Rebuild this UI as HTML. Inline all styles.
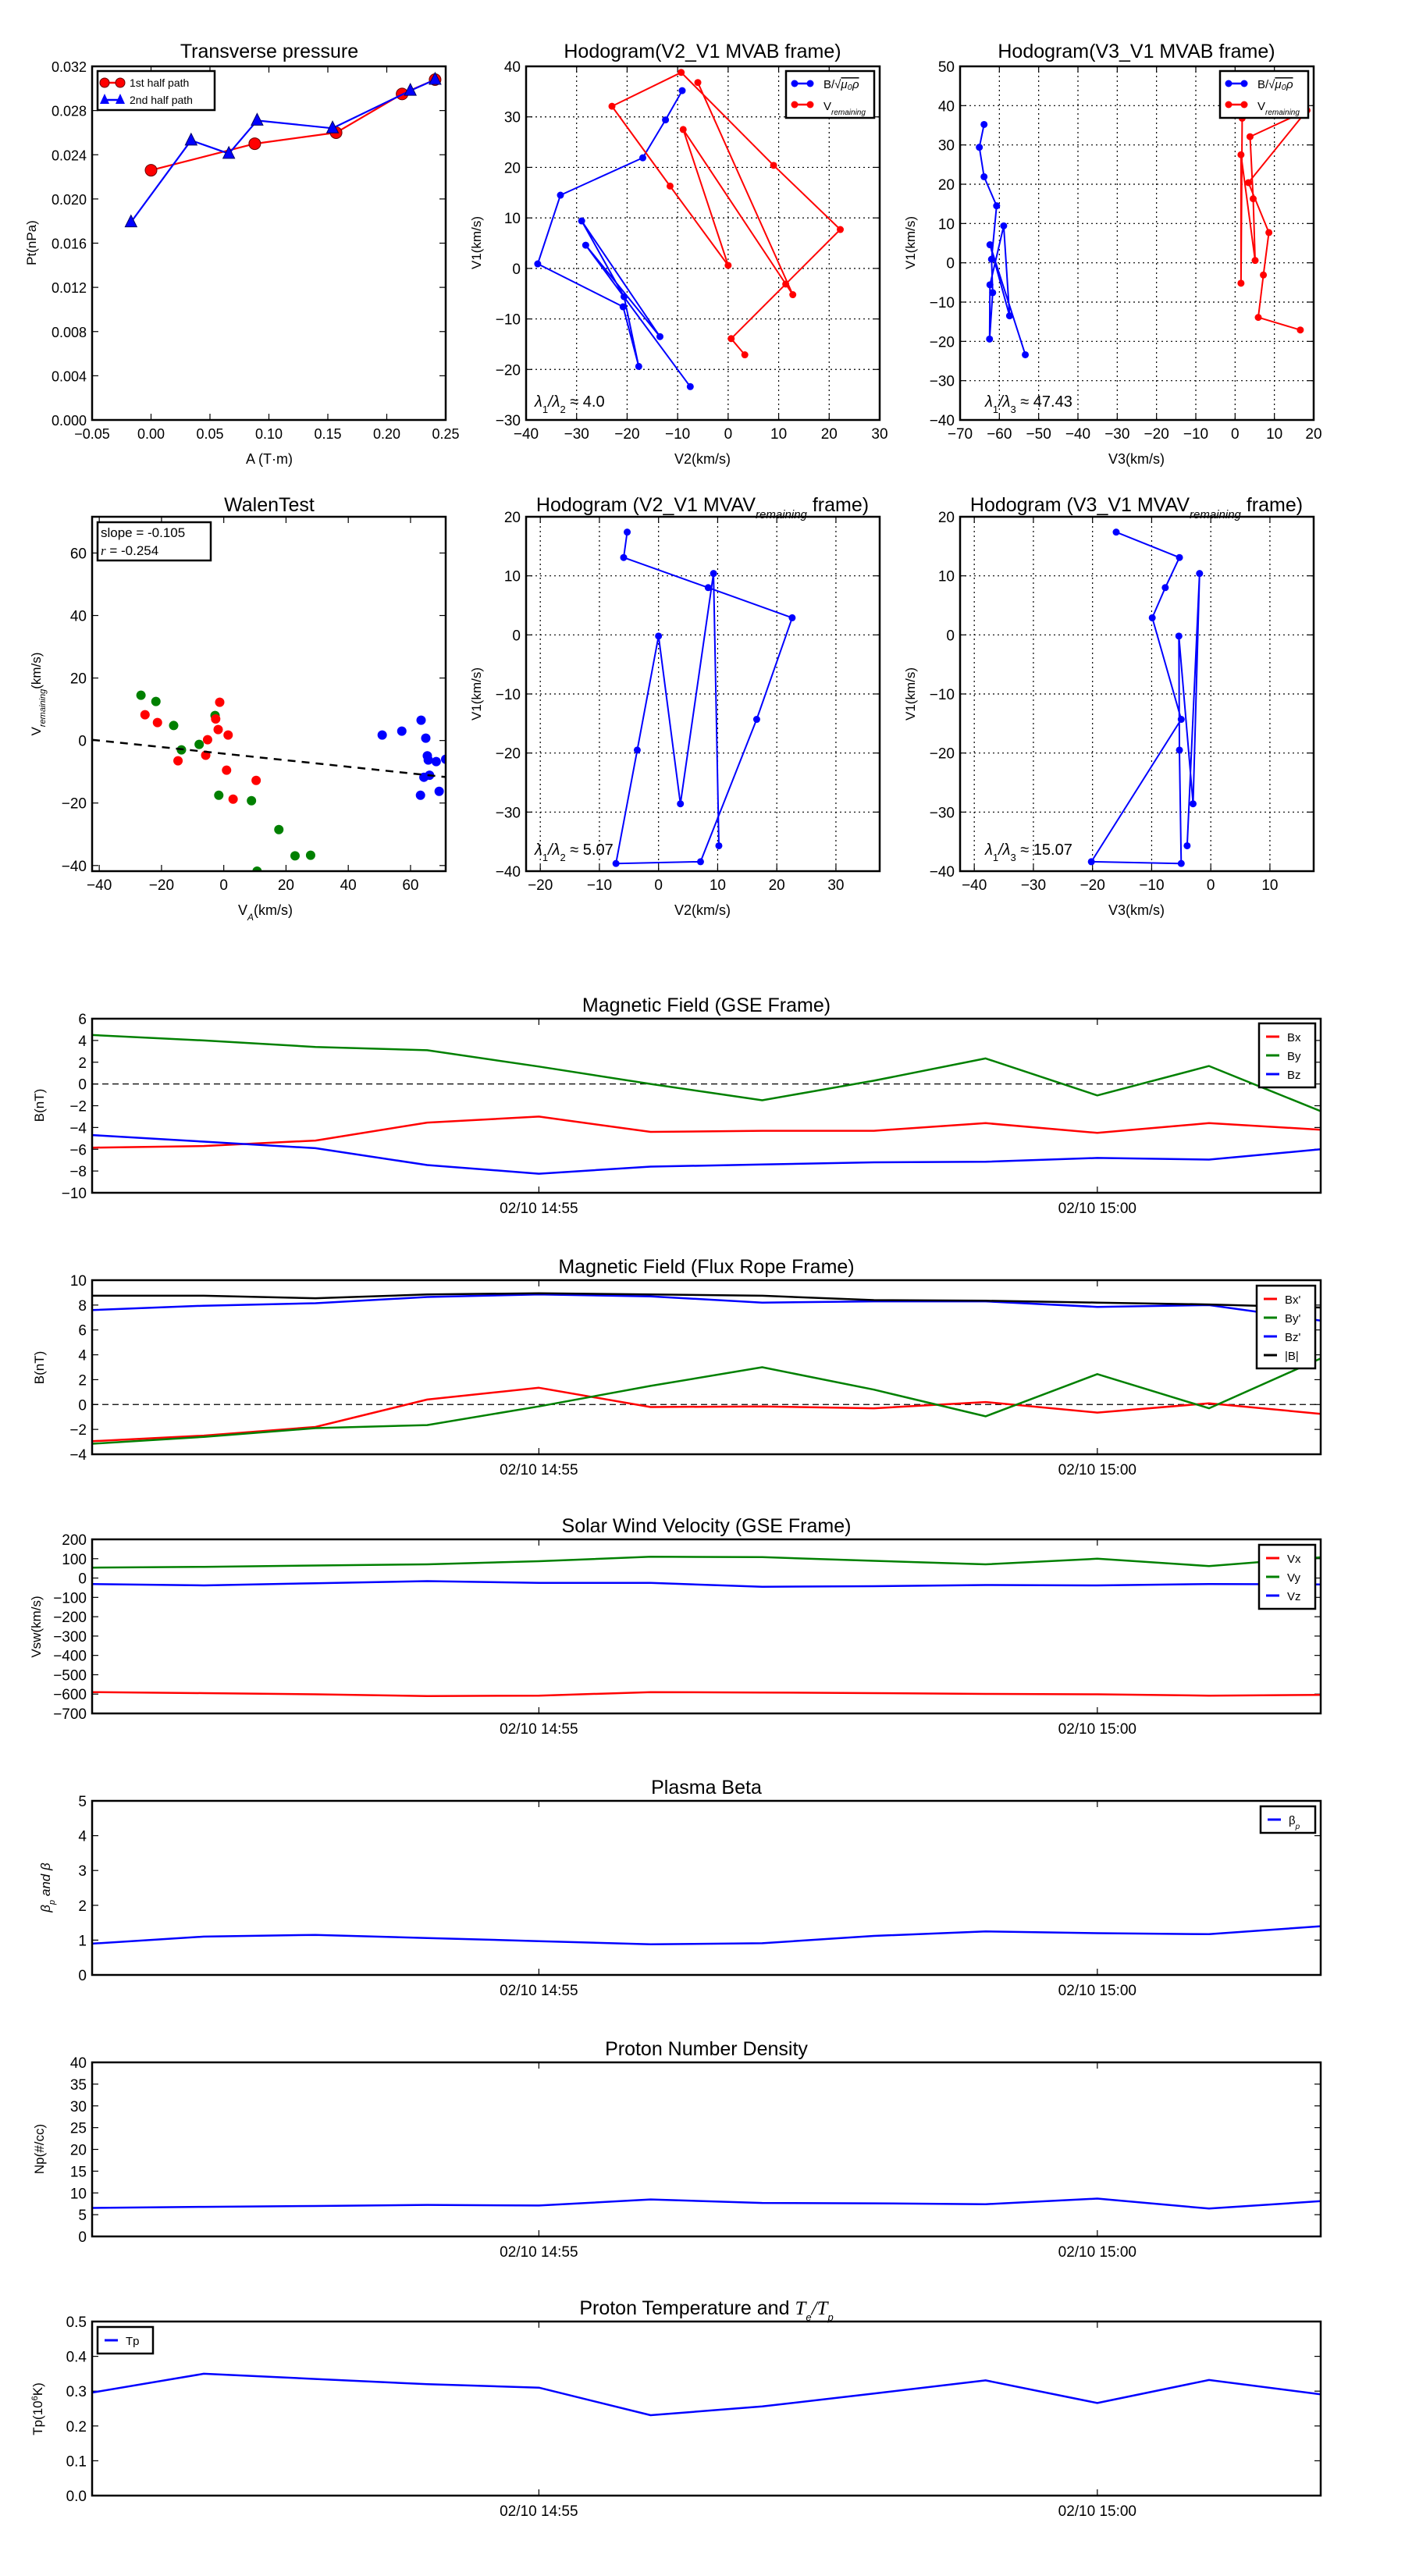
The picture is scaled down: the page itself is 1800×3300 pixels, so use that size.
<!DOCTYPE html>
<html><head><meta charset="utf-8"><title>Flux rope analysis</title>
<style>
html,body{margin:0;padding:0;background:#fff;}
svg{display:block;font-family:"Liberation Sans Narrow","Liberation Sans",sans-serif;}
</style></head>
<body>
<svg id="chart" xmlns="http://www.w3.org/2000/svg" width="1800" height="3300" viewBox="0 0 1800 3300">
<rect x="0" y="0" width="1800" height="3300" fill="#fff"/>
</svg>
<script>
// ---------- data ----------
const ptA1 = [0.0, 0.088, 0.157, 0.213, 0.241];
const ptP1 = [0.0226, 0.0250, 0.0260, 0.0295, 0.0308];
const ptA2 = [-0.017, 0.034, 0.066, 0.090, 0.154, 0.220, 0.241];
const ptP2 = [0.0179, 0.0253, 0.0241, 0.0271, 0.0264, 0.0298, 0.0308];

const mvabB1 = [35.2, 29.4, 21.9, 14.5, 0.9, -7.6, -19.4, -5.6, 9.4, -13.5, 4.6, -23.4];
const mvabB2 = [-9.1, -12.4, -16.9, -33.2, -37.7, -20.8, -17.7, -20.6, -29.0, -13.5, -28.2, -7.5];
const mvabB3 = [-63.9, -65.1, -63.9, -60.7, -62.0, -61.7, -62.5, -62.4, -58.9, -57.4, -62.4, -53.4];
const mvabV1 = [36.8, -5.2, 27.5, 0.6, 16.3, 32.1, 38.8, 20.4, 7.7, -3.1, -13.9, -17.1];
const mvabV2 = [-6.0, 12.8, -8.9, 0.0, -11.5, -23.0, -9.3, 9.0, 22.2, 11.4, 0.6, 3.3];
const mvabV3 = [1.8, 1.5, 1.5, 5.1, 4.6, 3.8, 18.3, 3.4, 8.6, 7.2, 5.9, 16.6];

const mvavV1 = [17.4, 13.1, 8.0, 2.9, -14.3, -38.4, -38.7, -19.5, -0.2, -28.6, 10.4, -35.7];
const mvavV2 = [-5.3, -5.9, 8.4, 22.6, 16.6, 7.1, -7.2, -3.6, 0.0, 3.7, 9.3, 10.2];
const mvavV3 = [-16.0, -5.3, -7.7, -9.9, -5.0, -20.2, -5.0, -5.3, -5.4, -3.0, -1.9, -4.0];

const walenGX = [-26.6, -21.8, -16.1, -13.6, -7.9, -2.8, -1.6, 8.9, 17.7, 22.9, 27.9, 10.7];
const walenGY = [14.5, 12.5, 4.8, -3.0, -1.25, 8.0, -17.5, -19.25, -28.5, -36.9, -36.7, -41.8];
const walenRX = [-25.3, -21.3, -14.7, -5.8, -5.2, -2.6, -1.8, -1.3, 1.4, 0.9, 3.0, 10.4];
const walenRY = [8.25, 5.75, -6.5, -4.7, 0.25, 6.9, 3.5, 12.25, 1.75, -9.5, -18.75, -12.75];
const walenBX = [50.9, 57.2, 63.4, 64.9, 65.4, 65.7, 68.25, 71.3, 64.3, 66.1, 63.2, 69.2];
const walenBY = [1.75, 3.0, 6.5, 0.75, -4.9, -6.25, -6.75, -6.0, -11.75, -11.1, -17.5, -16.25];
const walenSlope = -0.105;
const walenIntercept = -4.2;

const timeIdx = [0,1,2,3,4,5,6,7,8,9,10,11];
const timeTickIdx = [4, 9];
const timeTickLabels = ['02/10 14:55', '02/10 15:00'];

const gseBx = [-5.85, -5.7, -5.2, -3.55, -3.0, -4.4, -4.3, -4.3, -3.6, -4.5, -3.6, -4.2];
const gseBy = [4.5, 4.0, 3.4, 3.1, 1.6, 0.0, -1.5, 0.3, 2.35, -1.05, 1.65, -2.5];
const gseBz = [-4.7, -5.3, -5.9, -7.45, -8.25, -7.6, -7.4, -7.2, -7.15, -6.8, -6.95, -6.0];

const frBx = [-2.95, -2.5, -1.8, 0.4, 1.35, -0.2, -0.15, -0.3, 0.2, -0.65, 0.1, -0.75];
const frBy = [-3.15, -2.6, -1.9, -1.65, -0.15, 1.5, 3.0, 1.2, -0.95, 2.45, -0.3, 3.7];
const frBz = [7.6, 7.95, 8.15, 8.65, 8.85, 8.7, 8.2, 8.3, 8.3, 7.85, 8.0, 6.75];
const frBt = [8.75, 8.75, 8.55, 8.85, 8.95, 8.85, 8.75, 8.4, 8.35, 8.2, 8.05, 7.8];

const velVx = [-590, -595, -601, -610, -608, -590, -592, -595, -599, -601, -608, -604];
const velVy = [54, 58, 65, 71, 87, 110, 108, 89, 71, 100, 62, 107];
const velVz = [-31, -38, -27, -16, -25, -25, -45, -42, -36, -38, -31, -33];

const betaP = [0.9, 1.1, 1.15, 1.06, 0.97, 0.88, 0.91, 1.12, 1.25, 1.2, 1.17, 1.4];
const densNp = [6.55, 6.8, 7.0, 7.25, 7.1, 8.5, 7.7, 7.6, 7.4, 8.7, 6.4, 8.1];
const tempTp = [0.296, 0.35, 0.335, 0.32, 0.31, 0.231, 0.256, 0.293, 0.331, 0.266, 0.332, 0.291];

// ---------- helpers ----------
const NS = 'http://www.w3.org/2000/svg';
const svg = document.getElementById('chart');
let clipN = 0;
function mk(tag, attrs, parent) {
  const e = document.createElementNS(NS, tag);
  for (const k in attrs) e.setAttribute(k, attrs[k]);
  (parent || svg).appendChild(e);
  return e;
}
function fmt(v, d) { const s = Math.abs(v).toFixed(d); return (v < -1e-9 ? '\u2212' : '') + s; }
function label(str, x, y, size, anchor, name, parent, rot) {
  const e = mk('text', {x: x, y: y, 'font-size': size, 'text-anchor': anchor || 'middle', fill: '#000'}, parent);
  if (rot) e.setAttribute('transform', 'rotate(-90 ' + x + ' ' + y + ')');
  e.textContent = str;
  
  
  return e;
}
function range(a, b, s) { const r = []; for (let v = a; v <= b + 1e-9; v += s) r.push(+v.toFixed(6)); return r; }

function axes(name, bx, xlim, ylim, opt) {
  const g = mk('g', {});
  
  
  const sx = v => bx.x0 + (v - xlim[0]) / (xlim[1] - xlim[0]) * (bx.x1 - bx.x0);
  const sy = v => bx.y1 - (v - ylim[0]) / (ylim[1] - ylim[0]) * (bx.y1 - bx.y0);
  const id = 'clip' + (clipN++);
  const cp = mk('clipPath', {id: id}, g);
  mk('rect', {x: bx.x0, y: bx.y0, width: bx.x1 - bx.x0, height: bx.y1 - bx.y0}, cp);
  const xt = opt.xticks, yt = opt.yticks;
  if (opt.grid) {
    xt.forEach(v => { const x = sx(v); if (x > bx.x0 + 1 && x < bx.x1 - 1) { const l = mk('line', {x1: x, x2: x, y1: bx.y0, y2: bx.y1, stroke: '#000', 'stroke-width': 1.2, 'stroke-dasharray': '2,4'}, g);   } });
    yt.forEach(v => { const y = sy(v); if (y > bx.y0 + 1 && y < bx.y1 - 1) { const l = mk('line', {x1: bx.x0, x2: bx.x1, y1: y, y2: y, stroke: '#000', 'stroke-width': 1.2, 'stroke-dasharray': '2,4'}, g);   } });
  }
  const tl = 8;
  xt.forEach((v, i) => {
    const x = sx(v);
    mk('line', {x1: x, x2: x, y1: bx.y1, y2: bx.y1 - tl, stroke: '#000', 'stroke-width': 1.2}, g);
    mk('line', {x1: x, x2: x, y1: bx.y0, y2: bx.y0 + tl, stroke: '#000', 'stroke-width': 1.2}, g);
    const s = opt.xlabels ? opt.xlabels[i] : fmt(v, opt.xdec || 0);
    label(s, x, bx.y1 + (opt.xlabOff || 24), opt.tickSize || 19, 'middle', 'x-tick-label', g);
  });
  yt.forEach(v => {
    const y = sy(v);
    mk('line', {x1: bx.x0, x2: bx.x0 + tl, y1: y, y2: y, stroke: '#000', 'stroke-width': 1.2}, g);
    mk('line', {x1: bx.x1, x2: bx.x1 - tl, y1: y, y2: y, stroke: '#000', 'stroke-width': 1.2}, g);
    label(fmt(v, opt.ydec || 0), bx.x0 - 7, y + 7, opt.tickSize || 19, 'end', 'y-tick-label', g);
  });
  const data = mk('g', {'clip-path': 'url(#' + id + ')'}, g);
  
  
  const frame = () => {
    const f = mk('rect', {x: bx.x0, y: bx.y0, width: bx.x1 - bx.x0, height: bx.y1 - bx.y0, fill: 'none', stroke: '#000', 'stroke-width': 2.5}, g);
    
    
  };
  return {sx, sy, g, data, frame, bx};
}
function polyline(ax, xs, ys, color, w, name) {
  const pts = xs.map((x, i) => ax.sx(x).toFixed(1) + ',' + ax.sy(ys[i]).toFixed(1)).join(' ');
  const p = mk('polyline', {points: pts, fill: 'none', stroke: color, 'stroke-width': w || 2, 'stroke-linejoin': 'round'}, ax.data);
  
  
  return p;
}
function dots(ax, xs, ys, color, r, name) {
  xs.forEach((x, i) => {
    const c = mk('circle', {cx: ax.sx(x), cy: ax.sy(ys[i]), r: r, fill: color}, ax.data);
    
    
  });
}
function title(str, cx, y, name, subs) {
  const t = mk('text', {x: cx, y: y, 'font-size': 25, 'text-anchor': 'middle'});
  
  
  t.textContent = str;
  return t;
}
function sub(parentText, str, italic, shift, size) {
  const s = mk('tspan', {'font-size': size || 15, 'baseline-shift': shift || 'sub'}, parentText);
  if (italic) s.setAttribute('font-style', 'italic');
  s.textContent = str;
  return s;
}
function plain(parentText, str) { const s = mk('tspan', {'baseline-shift': '0'}, parentText); s.textContent = str; return s; }

// ---------- layout ----------
const colX = [[118, 571], [674, 1127], [1230, 1683]];
const row1 = [85, 538], row2 = [662, 1116];

// ===== Transverse pressure =====
(function () {
  const ax = axes('transverse-pressure-chart', {x0: colX[0][0], x1: colX[0][1], y0: row1[0], y1: row1[1]}, [-0.05, 0.25], [0, 0.032],
    {xticks: range(-0.05, 0.25, 0.05), yticks: range(0, 0.032, 0.004), xdec: 2, ydec: 3, tickSize: 18});
  polyline(ax, ptA1, ptP1, '#f00', 2.2, 'first-half-path-line');
  ptA1.forEach((a, i) => { const c = mk('circle', {cx: ax.sx(a), cy: ax.sy(ptP1[i]), r: 7.5, fill: '#f00', stroke: '#600', 'stroke-width': 1}, ax.data);   });
  polyline(ax, ptA2, ptP2, '#00f', 2.2, 'second-half-path-line');
  ptA2.forEach((a, i) => { const x = ax.sx(a), y = ax.sy(ptP2[i]); const t = mk('polygon', {points: `${x},${y - 9} ${x - 7.5},${y + 6} ${x + 7.5},${y + 6}`, fill: '#00f', stroke: '#006', 'stroke-width': 1}, ax.data);   });
  ax.frame();
  const lg = mk('g', {});
  
  
  mk('rect', {x: 125, y: 91, width: 150, height: 50, fill: '#fff', stroke: '#000', 'stroke-width': 2.5}, lg);
  mk('line', {x1: 134, x2: 154, y1: 106, y2: 106, stroke: '#f00', 'stroke-width': 2.5}, lg);
  mk('circle', {cx: 134, cy: 106, r: 6, fill: '#f00', stroke: '#600'}, lg);
  mk('circle', {cx: 154, cy: 106, r: 6, fill: '#f00', stroke: '#600'}, lg);
  label('1st half path', 166, 111, 14, 'start', 'legend-entry-first-half', lg);
  mk('line', {x1: 134, x2: 154, y1: 128, y2: 128, stroke: '#00f', 'stroke-width': 2.5}, lg);
  mk('polygon', {points: '134,120 128,133 140,133', fill: '#00f'}, lg);
  mk('polygon', {points: '154,120 148,133 160,133', fill: '#00f'}, lg);
  label('2nd half path', 166, 133, 14, 'start', 'legend-entry-second-half', lg);
  title('Transverse pressure', 345, 74, 'transverse-pressure-title');
  label('A (T\u00b7m)', 345, 594, 18, 'middle', 'x-axis-title');
  label('Pt(nPa)', 46, 311, 17, 'middle', 'y-axis-title', null, true);
})();

function hodoLegend(x, y, name) {
  const lg = mk('g', {});
  
  
  mk('rect', {x: x, y: y, width: 113, height: 60, fill: '#fff', stroke: '#000', 'stroke-width': 2.5}, lg);
  mk('line', {x1: x + 11, x2: x + 31, y1: y + 16, y2: y + 16, stroke: '#00f', 'stroke-width': 2.5}, lg);
  mk('circle', {cx: x + 11, cy: y + 16, r: 4.5, fill: '#00f'}, lg);
  mk('circle', {cx: x + 31, cy: y + 16, r: 4.5, fill: '#00f'}, lg);
  const t1 = label('B/\u221a', x + 48, y + 22, 15, 'start', 'legend-entry-b', lg);
  const s1 = mk('tspan', {'font-style': 'italic', 'text-decoration': 'overline'}, t1); s1.textContent = '\u03bc\u2080\u03c1';
  mk('line', {x1: x + 11, x2: x + 31, y1: y + 43, y2: y + 43, stroke: '#f00', 'stroke-width': 2.5}, lg);
  mk('circle', {cx: x + 11, cy: y + 43, r: 4.5, fill: '#f00'}, lg);
  mk('circle', {cx: x + 31, cy: y + 43, r: 4.5, fill: '#f00'}, lg);
  const t2 = label('V', x + 48, y + 50, 15, 'start', 'legend-entry-v-remaining', lg);
  sub(t2, 'remaining', true, 'sub', 10);
}
function lambdaText(x, y, a, b, val, name) {
  const t = mk('text', {x: x, y: y, 'font-size': 20, 'text-anchor': 'start'});
  
  
  const s0 = mk('tspan', {'font-style': 'italic'}, t); s0.textContent = '\u03bb';
  sub(t, a, false, 'sub', 13);
  const s2 = mk('tspan', {'font-style': 'italic', 'baseline-shift': '0'}, t); s2.textContent = '/\u03bb';
  sub(t, b, false, 'sub', 13);
  plain(t, ' \u2248 ' + val);
}

// ===== Hodogram V2_V1 MVAB =====
(function () {
  const ax = axes('hodogram-v2-v1-mvab', {x0: colX[1][0], x1: colX[1][1], y0: row1[0], y1: row1[1]}, [-40, 30], [-30, 40],
    {xticks: range(-40, 30, 10), yticks: range(-30, 40, 10), grid: true});
  polyline(ax, mvabB2, mvabB1, '#00f', 2, 'b-hodogram-line');
  dots(ax, mvabB2, mvabB1, '#00f', 4.5, 'b-hodogram-point');
  polyline(ax, mvabV2, mvabV1, '#f00', 2, 'v-hodogram-line');
  dots(ax, mvabV2, mvabV1, '#f00', 4.5, 'v-hodogram-point');
  ax.frame();
  hodoLegend(1007, 91, 'mvab-v2-legend');
  lambdaText(685, 521, '1', '2', '4.0', 'eigenvalue-ratio-text');
  title('Hodogram(V2_V1 MVAB frame)', 900, 74, 'hodogram-v2-mvab-title');
  label('V2(km/s)', 900, 594, 18, 'middle', 'x-axis-title');
  label('V1(km/s)', 616, 311, 17, 'middle', 'y-axis-title', null, true);
})();

// ===== Hodogram V3_V1 MVAB =====
(function () {
  const ax = axes('hodogram-v3-v1-mvab', {x0: colX[2][0], x1: colX[2][1], y0: row1[0], y1: row1[1]}, [-70, 20], [-40, 50],
    {xticks: range(-70, 20, 10), yticks: range(-40, 50, 10), grid: true});
  polyline(ax, mvabB3, mvabB1, '#00f', 2, 'b-hodogram-line');
  dots(ax, mvabB3, mvabB1, '#00f', 4.5, 'b-hodogram-point');
  polyline(ax, mvabV3, mvabV1, '#f00', 2, 'v-hodogram-line');
  dots(ax, mvabV3, mvabV1, '#f00', 4.5, 'v-hodogram-point');
  ax.frame();
  hodoLegend(1563, 91, 'mvab-v3-legend');
  lambdaText(1262, 521, '1', '3', '47.43', 'eigenvalue-ratio-text');
  title('Hodogram(V3_V1 MVAB frame)', 1456, 74, 'hodogram-v3-mvab-title');
  label('V3(km/s)', 1456, 594, 18, 'middle', 'x-axis-title');
  label('V1(km/s)', 1172, 311, 17, 'middle', 'y-axis-title', null, true);
})();

// ===== Walen test =====
(function () {
  const ax = axes('walen-test-chart', {x0: colX[0][0], x1: colX[0][1], y0: row2[0], y1: row2[1]}, [-42.3, 71.3], [-41.8, 71.6],
    {xticks: range(-40, 60, 20), yticks: range(-40, 60, 20)});
  dots(ax, walenGX, walenGY, '#008000', 6, 'walen-point-green');
  dots(ax, walenRX, walenRY, '#f00', 6, 'walen-point-red');
  dots(ax, walenBX, walenBY, '#00f', 6, 'walen-point-blue');
  const xa = -42.3, xb = 71.3;
  const fl = mk('line', {x1: ax.sx(xa), y1: ax.sy(walenSlope * xa + walenIntercept), x2: ax.sx(xb), y2: ax.sy(walenSlope * xb + walenIntercept), stroke: '#000', 'stroke-width': 2.5, 'stroke-dasharray': '10,8'}, ax.data);
  
  
  ax.frame();
  const box = mk('g', {});
  
  
  mk('rect', {x: 125, y: 669, width: 145, height: 49, fill: '#fff', stroke: '#000', 'stroke-width': 2.5}, box);
  label('slope = -0.105', 129, 688, 17, 'start', 'slope-text', box);
  const rt = label('', 129, 711, 17, 'start', 'correlation-text', box);
  const ri = mk('tspan', {'font-style': 'italic', 'font-family': 'Liberation Serif, serif'}, rt); ri.textContent = 'r';
  plain(rt, ' = -0.254');
  title('WalenTest', 345, 655, 'walen-test-title');
  const xl = label('V', 340, 1172, 18, 'middle', 'x-axis-title');
  sub(xl, 'A', true, 'sub', 12); plain(xl, '(km/s)');
  const yl = label('V', 52, 889, 17, 'middle', 'y-axis-title', null, true);
  sub(yl, 'remaining', true, 'sub', 11); plain(yl, '(km/s)');
})();

// ===== Hodogram V2_V1 MVAV =====
(function () {
  const ax = axes('hodogram-v2-v1-mvav', {x0: colX[1][0], x1: colX[1][1], y0: row2[0], y1: row2[1]}, [-22.4, 37.4], [-40, 20],
    {xticks: range(-20, 30, 10), yticks: range(-40, 20, 10), grid: true});
  polyline(ax, mvavV2, mvavV1, '#00f', 2, 'v-hodogram-line');
  dots(ax, mvavV2, mvavV1, '#00f', 4.5, 'v-hodogram-point');
  ax.frame();
  lambdaText(685, 1095, '1', '2', '5.07', 'eigenvalue-ratio-text');
  const t = title('Hodogram (V2_V1 MVAV', 900, 655, 'hodogram-v2-mvav-title');
  sub(t, 'remaining', true, 'sub', 15); plain(t, ' frame)');
  label('V2(km/s)', 900, 1172, 18, 'middle', 'x-axis-title');
  label('V1(km/s)', 616, 889, 17, 'middle', 'y-axis-title', null, true);
})();

// ===== Hodogram V3_V1 MVAV =====
(function () {
  const ax = axes('hodogram-v3-v1-mvav', {x0: colX[2][0], x1: colX[2][1], y0: row2[0], y1: row2[1]}, [-42.4, 17.4], [-40, 20],
    {xticks: range(-40, 10, 10), yticks: range(-40, 20, 10), grid: true});
  polyline(ax, mvavV3, mvavV1, '#00f', 2, 'v-hodogram-line');
  dots(ax, mvavV3, mvavV1, '#00f', 4.5, 'v-hodogram-point');
  ax.frame();
  lambdaText(1262, 1095, '1', '3', '15.07', 'eigenvalue-ratio-text');
  const t = title('Hodogram (V3_V1 MVAV', 1456, 655, 'hodogram-v3-mvav-title');
  sub(t, 'remaining', true, 'sub', 15); plain(t, ' frame)');
  label('V3(km/s)', 1456, 1172, 18, 'middle', 'x-axis-title');
  label('V1(km/s)', 1172, 889, 17, 'middle', 'y-axis-title', null, true);
})();

// ===== Time series =====
function tsLegend(x, y, w, entries, name) {
  const lg = mk('g', {});
  
  
  const h = entries.length * 24 + 10;
  mk('rect', {x: x, y: y, width: w, height: h, fill: '#fff', stroke: '#000', 'stroke-width': 2.5}, lg);
  entries.forEach((en, i) => {
    const yy = y + 17 + i * 24;
    mk('line', {x1: x + 9, x2: x + 26, y1: yy, y2: yy, stroke: en[1], 'stroke-width': 3}, lg);
    const t = label(en[0], x + 36, yy + 6, 15, 'start', 'legend-entry', lg);
    if (en[2]) sub(t, en[2], true, 'sub', 10);
  });
}
function tsPanel(name, top, ylim, yticks, ydec, series, titleStr, ylab, zeroLine) {
  const ax = axes(name, {x0: 118, x1: 1692, y0: top, y1: top + 223}, [0, 11], ylim,
    {xticks: timeTickIdx, xlabels: timeTickLabels, yticks: yticks, ydec: ydec, xlabOff: 26});
  if (zeroLine) {
    const z = mk('line', {x1: 118, x2: 1692, y1: ax.sy(0), y2: ax.sy(0), stroke: '#000', 'stroke-width': 1.3, 'stroke-dasharray': '8,5'}, ax.data);
    
    
  }
  series.forEach(s => polyline(ax, timeIdx, s[0], s[1], 2.5, s[2]));
  ax.frame();
  const t = title(titleStr, 905, top - 9, name + '-title');
  return {ax, t};
}

tsPanel('magnetic-field-gse', 1305, [-10, 6], range(-10, 6, 2), 0,
  [[gseBx, '#f00', 'bx-line'], [gseBy, '#008000', 'by-line'], [gseBz, '#00f', 'bz-line']],
  'Magnetic Field (GSE Frame)', '', true);
tsLegend(1613, 1311, 72, [['Bx', '#f00'], ['By', '#008000'], ['Bz', '#00f']], 'gse-legend');
label('B(nT)', 56, 1416, 17, 'middle', 'y-axis-title', null, true);

tsPanel('magnetic-field-flux-rope', 1640, [-4, 10], range(-4, 10, 2), 0,
  [[frBx, '#f00', 'bx-prime-line'], [frBy, '#008000', 'by-prime-line'], [frBz, '#00f', 'bz-prime-line'], [frBt, '#000', 'b-magnitude-line']],
  'Magnetic Field (Flux Rope Frame)', '', true);
tsLegend(1610, 1647, 75, [["Bx'", '#f00'], ["By'", '#008000'], ["Bz'", '#00f'], ['|B|', '#000']], 'flux-rope-legend');
label('B(nT)', 56, 1752, 17, 'middle', 'y-axis-title', null, true);

tsPanel('solar-wind-velocity', 1972, [-700, 200], range(-700, 200, 100), 0,
  [[velVx, '#f00', 'vx-line'], [velVy, '#008000', 'vy-line'], [velVz, '#00f', 'vz-line']],
  'Solar Wind Velocity (GSE Frame)', '', false);
tsLegend(1613, 1979, 72, [['Vx', '#f00'], ['Vy', '#008000'], ['Vz', '#00f']], 'velocity-legend');
label('Vsw(km/s)', 52, 2084, 17, 'middle', 'y-axis-title', null, true);

tsPanel('plasma-beta', 2307, [0, 5], range(0, 5, 1), 0,
  [[betaP, '#00f', 'beta-p-line']], 'Plasma Beta', '', false);
tsLegend(1615, 2314, 70, [['\u03b2', '#00f', 'p']], 'beta-legend');
(function () {
  const yl = label('\u03b2', 64, 2418, 17, 'middle', 'y-axis-title', null, true);
  yl.setAttribute('font-style', 'italic');
  sub(yl, 'p', true, 'sub', 11); plain(yl, ' and \u03b2');
})();

tsPanel('proton-number-density', 2642, [0, 40], range(0, 40, 5), 0,
  [[densNp, '#00f', 'np-line']], 'Proton Number Density', '', false);
label('Np(#/cc)', 56, 2753, 17, 'middle', 'y-axis-title', null, true);

(function () {
  const r = tsPanel('proton-temperature', 2974, [0, 0.5], range(0, 0.5, 0.1), 1,
    [[tempTp, '#00f', 'tp-line']], 'Proton Temperature and ', '', false);
  const s = mk('tspan', {'font-style': 'italic', 'font-family': 'Liberation Serif, serif'}, r.t); s.textContent = 'T';
  sub(r.t, 'e', true, 'sub', 13);
  const s2 = mk('tspan', {'font-style': 'italic', 'font-family': 'Liberation Serif, serif', 'baseline-shift': '0'}, r.t); s2.textContent = '/T';
  sub(r.t, 'p', true, 'sub', 13);
})();
tsLegend(125, 2981, 71, [['Tp', '#00f']], 'temperature-legend');
(function () {
  const yl = label('Tp(10', 54, 3086, 17, 'middle', 'y-axis-title', null, true);
  sub(yl, '6', false, 'super', 11); plain(yl, 'K)');
})();
</script>
</body></html>
